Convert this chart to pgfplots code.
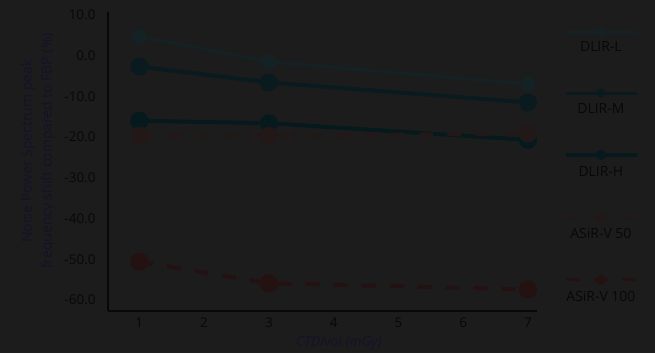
\documentclass[border=0pt]{standalone}
\usepackage{pgfplots}
\pgfplotsset{compat=1.18}
\usepackage{fontspec}
\setmainfont{Open Sans}
\pgfdeclarelayer{background}
\pgfsetlayers{background,main}
\definecolor{bg}{HTML}{1C1C1C}
\definecolor{tick}{HTML}{080808}
\definecolor{lab}{HTML}{15122A}
\definecolor{cL}{HTML}{142225}
\definecolor{cM}{HTML}{091B1F}
\definecolor{cH}{HTML}{061A1E}
\definecolor{cA}{HTML}{221817}
\definecolor{cB}{HTML}{231211}
\begin{document}
\begin{tikzpicture}[x=1bp,y=1bp]
\begin{axis}[
  scale only axis,
  width=429bp, height=299bp,
  xmin=0.516, xmax=7.14,
  ymin=-62.7, ymax=10.7,
  axis x line=bottom, axis y line=left,
  axis line style={-, line width=1.3bp, color=tick},
  xtick={1,...,7},
  ytick={-60,-50,...,10},
  major tick length=0,
  /pgf/number format/assume math mode=true,
  yticklabel style={xshift=-9bp, /pgf/number format/fixed, /pgf/number format/fixed zerofill, /pgf/number format/precision=1},
  ticklabel style={font=\fontsize{13.5}{15}\selectfont, text=tick},
  xticklabel style={yshift=-3bp},
  xlabel={CTDIvol (mGy)},
  xlabel style={at={(axis description cs:0.538,-0.107)}, anchor=center, font=\fontsize{14}{16}\selectfont\itshape, text=lab},
  ylabel={Noise Power Spectrum peak\\frequency shift compared to FBP (\%)},
  ylabel style={at={(axis description cs:-0.163,0.535)}, anchor=center, align=center, font=\fontsize{14}{20}\selectfont, text=lab},
  clip=false,
]
\addplot[cL, line width=3bp, mark=*, mark size=6bp, mark options={solid, fill=cL, draw=cL}] coordinates {(1,4.7) (3,-1.5) (7,-7.0)};
\addplot[cM, line width=4bp, mark=*, mark size=7bp, mark options={solid, fill=cM, draw=cM}] coordinates {(1,-2.7) (3,-6.6) (7,-11.5)};
\addplot[cH, line width=4bp, mark=*, mark size=7bp, mark options={solid, fill=cH, draw=cH}] coordinates {(1,-16.0) (3,-16.6) (7,-20.7)};
\addplot[cA, line width=4bp, dash pattern=on 14bp off 14bp, mark=*, mark size=7bp, mark options={solid, fill=cA, draw=cA}] coordinates {(1,-19.7) (3,-19.7) (7,-19.1)};
\addplot[cB, line width=4bp, dash pattern=on 14bp off 14bp, mark=*, mark size=7bp, mark options={solid, fill=cB, draw=cB}] coordinates {(1,-50.6) (3,-55.9) (7,-57.4)};
\coordinate (bgbl) at (rel axis cs:-0.2517,-0.1405);
\coordinate (bgtr) at (rel axis cs:1.2751,1.0401);
% legend
\coordinate (l1a) at (rel axis cs:1.068,0.933); \coordinate (l1b) at (rel axis cs:1.233,0.933); \coordinate (l1c) at (rel axis cs:1.149,0.933); \coordinate (t1) at (rel axis cs:1.149,0.883);
\coordinate (l2a) at (rel axis cs:1.068,0.729); \coordinate (l2b) at (rel axis cs:1.233,0.729); \coordinate (l2c) at (rel axis cs:1.149,0.729); \coordinate (t2) at (rel axis cs:1.149,0.676);
\coordinate (l3a) at (rel axis cs:1.068,0.522); \coordinate (l3b) at (rel axis cs:1.233,0.522); \coordinate (l3c) at (rel axis cs:1.149,0.522); \coordinate (t3) at (rel axis cs:1.149,0.465);
\coordinate (l4a) at (rel axis cs:1.068,0.314); \coordinate (l4b) at (rel axis cs:1.233,0.314); \coordinate (l4c) at (rel axis cs:1.149,0.314); \coordinate (t4) at (rel axis cs:1.149,0.261);
\coordinate (l5a) at (rel axis cs:1.068,0.104); \coordinate (l5b) at (rel axis cs:1.233,0.104); \coordinate (l5c) at (rel axis cs:1.149,0.104); \coordinate (t5) at (rel axis cs:1.149,0.050);
\end{axis}
\begin{pgfonlayer}{background}
\fill[bg] (bgbl) rectangle (bgtr);
\end{pgfonlayer}
\tikzset{legtxt/.style={font=\fontsize{14}{16}\selectfont, text=tick, anchor=center}}
\draw[cL, line width=3bp] (l1a) -- (l1b); \fill[cL] (l1c) circle (4.5bp); \node[legtxt] at (t1) {DLIR-L};
\draw[cM, line width=3bp] (l2a) -- (l2b); \fill[cM] (l2c) circle (4.5bp); \node[legtxt] at (t2) {DLIR-M};
\draw[cH, line width=3.5bp] (l3a) -- (l3b); \fill[cH] (l3c) circle (5bp); \node[legtxt] at (t3) {DLIR-H};
\draw[cA, line width=3bp, dash pattern=on 14bp off 14bp] (l4a) -- (l4b); \fill[cA] (l4c) circle (5bp); \node[legtxt] at (t4) {ASiR-V 50};
\draw[cB, line width=3bp, dash pattern=on 14bp off 14bp] (l5a) -- (l5b); \fill[cB] (l5c) circle (5bp); \node[legtxt] at (t5) {ASiR-V 100};
\end{tikzpicture}
\end{document}
